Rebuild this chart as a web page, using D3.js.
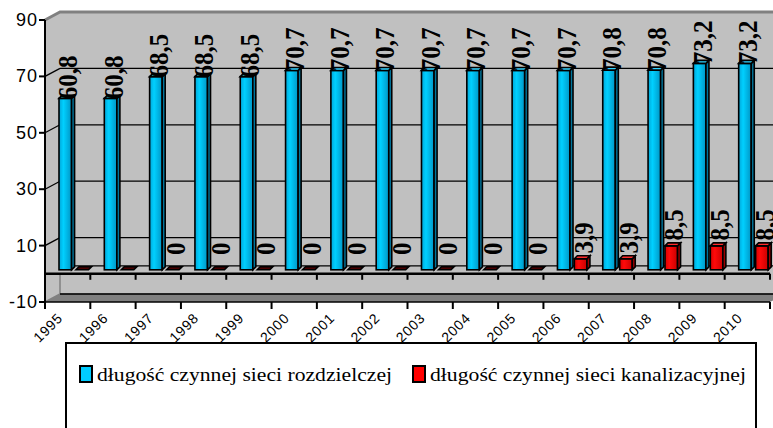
<!DOCTYPE html>
<html>
<head>
<meta charset="utf-8">
<script src="https://cdn.jsdelivr.net/npm/d3@7"></script>
<style>
  body { margin: 0; background: #fff; }
</style>
</head>
<body>
<svg id="chart" width="773" height="428"></svg>
<script>
// data
const years = ["1995","1996","1997","1998","1999","2000","2001","2002","2003","2004","2005","2006","2007","2008","2009","2010"];
const rozdzielcza = [60.8,60.8,68.5,68.5,68.5,70.7,70.7,70.7,70.7,70.7,70.7,70.7,70.8,70.8,73.2,73.2];
const kanalizacja = [null,null,0,0,0,0,0,0,0,0,0,3.9,3.9,8.5,8.5,8.5];
const seriesNames = ["długość czynnej sieci rozdzielczej", "długość czynnej sieci kanalizacyjnej"];
const yTicks = [-10, 10, 30, 50, 70, 90];

const SANS = "'Liberation Sans', Arial, sans-serif";
const SERIF = "'Liberation Serif', 'Times New Roman', serif";

const svg = d3.select("#chart");
const DX = 15, DY = -8;      // depth of the 3d box
const BD = 3;                // depth of each column

const x0 = d3.scaleBand().domain(years).range([45, 770]);
const x1 = d3.scaleBand().domain([0, 1]).range([6.5, 39]).paddingInner(0.08);
const y = d3.scaleLinear().domain([-10, 90]).range([302, 20]);
const bw = x0.bandwidth();
const fmt = v => String(v).replace(".", ",");

// gradients for the columns
const defs = svg.append("defs");
function grad(id, stops) {
  const g = defs.append("linearGradient").attr("id", id).attr("x1", 0).attr("x2", 1).attr("y1", 0).attr("y2", 0);
  stops.forEach(s => g.append("stop").attr("offset", s[0]).attr("stop-color", s[1]));
}
grad("gBlue", [[0, "#00a6d8"], [0.35, "#00d0ff"], [1, "#0096c6"]]);
grad("gRed", [[0, "#d80000"], [0.35, "#ff0a0a"], [1, "#c80000"]]);
const colors = [
  { front: "url(#gBlue)", top: "#30d4ff", side: "#00759c", flat: "#00506a", swatch: "#00ccff" },
  { front: "url(#gRed)", top: "#ff2a2a", side: "#9a0000", flat: "#4a0000", swatch: "#ff0000" }
];

const yTop = y(90), yBot = y(-10);
const xL = 45, xR = 770;

// walls and floor
svg.append("polygon")
  .attr("points", [[xL + DX, yTop + DY], [xR + DX + 10, yTop + DY], [xR + DX + 10, yBot + DY], [xL + DX, yBot + DY]].join(" "))
  .attr("fill", "#c0c0c0");
svg.append("polygon")
  .attr("points", [[xL, yTop], [xL + DX, yTop + DY], [xL + DX, yBot + DY], [xL, yBot]].join(" "))
  .attr("fill", "#c0c0c0");
svg.append("polygon")
  .attr("points", [[xL + DX, yBot + DY], [xR + DX, yBot + DY], [xR, yBot], [xL, yBot]].join(" "))
  .attr("fill", "#808080");
svg.append("line")
  .attr("x1", xL + DX).attr("x2", xR + DX).attr("y1", yBot + DY).attr("y2", yBot + DY)
  .attr("stroke", "#6a6a6a").attr("stroke-width", 1);
svg.append("line")
  .attr("x1", xL + DX).attr("x2", xL + DX).attr("y1", y(0)).attr("y2", yBot + DY)
  .attr("stroke", "#808080").attr("stroke-width", 1.5);
svg.append("line")
  .attr("x1", xL + DX).attr("x2", xL).attr("y1", yBot + DY).attr("y2", yBot)
  .attr("stroke", "#808080").attr("stroke-width", 1.5);

// gridlines on the back wall + diagonals on the side wall
const grid = yTicks.filter(v => v < 90).concat([0]);
svg.selectAll(".grid").data(grid).join("line")
  .attr("x1", xL + DX).attr("x2", xR + DX + 10)
  .attr("y1", d => y(d) + DY).attr("y2", d => y(d) + DY)
  .attr("stroke", "#000").attr("stroke-width", 1.3);
svg.selectAll(".diag").data(yTicks.filter(v => v < 90 && v > -10)).join("line")
  .attr("x1", xL).attr("y1", d => y(d))
  .attr("x2", xL + DX).attr("y2", d => y(d) + DY)
  .attr("stroke", "#000").attr("stroke-width", 1.3);

// top border of the box
svg.append("path")
  .attr("d", `M${xL},${yTop}L${xL + DX},${yTop + DY}L${xR + DX + 10},${yTop + DY}`)
  .attr("fill", "none").attr("stroke", "#808080").attr("stroke-width", 3);

// value axis
svg.append("line").attr("x1", xL).attr("x2", xL).attr("y1", yTop).attr("y2", yBot)
  .attr("stroke", "#000").attr("stroke-width", 2);
svg.selectAll(".ytick").data(yTicks).join("line")
  .attr("x1", xL - 6).attr("x2", xL).attr("y1", d => y(d)).attr("y2", d => y(d))
  .attr("stroke", "#000").attr("stroke-width", 2);
svg.selectAll(".ylab").data(yTicks).join("text")
  .attr("x", xL - 7).attr("y", d => y(d))
  .attr("text-anchor", "end").attr("dominant-baseline", "central")
  .style("font-family", SANS).style("font-size", "18px").attr("letter-spacing", 1).attr("fill", "#000")
  .text(d => d);

// category axis at 0 and ticks at the front of the floor
const bounds = d3.range(years.length + 1).map(k => xL + k * bw);
svg.append("line").attr("x1", xL).attr("x2", xR).attr("y1", y(0)).attr("y2", y(0))
  .attr("stroke", "#000").attr("stroke-width", 2.5);
svg.selectAll(".ctick").data(bounds.slice(1)).join("line")
  .attr("x1", d => d).attr("x2", d => d).attr("y1", y(0)).attr("y2", y(0) + 6)
  .attr("stroke", "#000").attr("stroke-width", 2);
svg.append("line").attr("x1", xL).attr("x2", xR).attr("y1", yBot).attr("y2", yBot)
  .attr("stroke", "#000").attr("stroke-width", 1.5);
svg.selectAll(".btick").data(bounds).join("line")
  .attr("x1", d => d).attr("x2", d => d).attr("y1", yBot).attr("y2", yBot + 7)
  .attr("stroke", "#000").attr("stroke-width", 2);

// category labels
svg.selectAll(".xlab").data(years).join("text")
  .attr("transform", d => `translate(${x0(d) + bw / 2 - 4},${yBot + 17}) rotate(-45)`)
  .attr("text-anchor", "end")
  .style("font-family", SANS).style("font-size", "14px").attr("letter-spacing", 0.8)
  .attr("fill", "#000")
  .text(d => d);

// columns
const series = [rozdzielcza, kanalizacja];
const bars = [];
years.forEach((yr, i) => {
  series.forEach((vals, s) => {
    bars.push({ yr, s, v: vals[i] });
  });
});
const w = x1.bandwidth() - BD;
const g = svg.append("g");
bars.forEach(b => {
  const v = b.v === null ? 0 : b.v;
  const xl = x0(b.yr) + DX / 2 + x1(b.s);
  const yt = y(v) + DY / 2, yb = y(0) + DY / 2;
  const c = colors[b.s];
  if (v > 0) {
    g.append("rect").attr("x", xl).attr("y", yt).attr("width", w).attr("height", yb - yt)
      .attr("fill", c.front).attr("stroke", "#000").attr("stroke-width", 1.6);
    g.append("polygon")
      .attr("points", [[xl + w, yt], [xl + w + BD, yt - BD], [xl + w + BD, yb - BD], [xl + w, yb]].join(" "))
      .attr("fill", c.side).attr("stroke", "#000").attr("stroke-width", 1.6);
  }
  g.append("polygon")
    .attr("points", [[xl, yt], [xl + BD, yt - BD], [xl + w + BD, yt - BD], [xl + w, yt]].join(" "))
    .attr("fill", v > 0 ? c.top : c.flat).attr("stroke", "#000").attr("stroke-width", 1.6);
  b.cx = xl + w / 2;
  b.top = yt;
});

// data labels
svg.selectAll(".lbl").data(bars.filter(b => b.v !== null)).join("text")
  .attr("class", "lbl")
  .attr("transform", b => `translate(${b.cx + 12},${b.top - 21}) scale(1.12,1) rotate(-90)`)
  .attr("text-anchor", "middle")
  .style("font-family", SERIF).style("font-weight", "bold").style("font-size", "25px")
  .attr("fill", "#000")
  .text(b => fmt(b.v));

// legend
const leg = svg.append("g");
leg.append("rect").attr("x", 66).attr("y", 343).attr("width", 690).attr("height", 110)
  .attr("fill", "#fff").attr("stroke", "#000").attr("stroke-width", 2);
const legX = [80, 413];
const legLen = [295, 316];
seriesNames.forEach((name, s) => {
  leg.append("rect").attr("x", legX[s]).attr("y", 366).attr("width", 12).attr("height", 16)
    .attr("fill", colors[s].swatch).attr("stroke", "#000").attr("stroke-width", 2);
  leg.append("text").attr("x", legX[s] + 17).attr("y", 381)
    .attr("textLength", legLen[s]).attr("lengthAdjust", "spacingAndGlyphs")
    .style("font-family", SERIF).style("font-size", "19px")
    .attr("fill", "#000")
    .text(name);
});
</script>
</body>
</html>
